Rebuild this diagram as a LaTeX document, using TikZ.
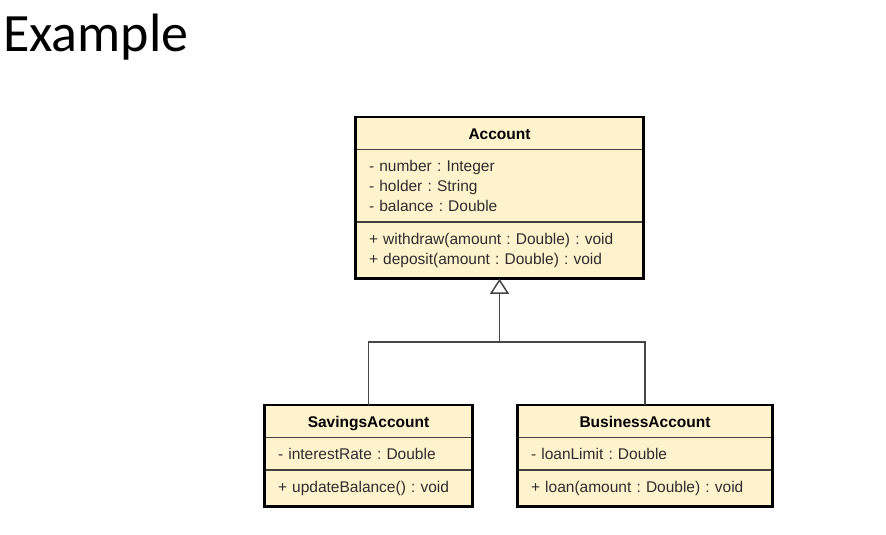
\documentclass[tikz,border=0pt]{standalone}
\usepackage{fontspec}
\setmainfont{Liberation Sans}
\newfontfamily\titlefont{Carlito}
\usetikzlibrary{positioning,arrows.meta,shapes.multipart}
\setlength{\parindent}{0pt}
\frenchspacing
\definecolor{classfill}{RGB}{255,243,206}
\definecolor{textgray}{RGB}{45,45,45}
\definecolor{linegray}{RGB}{70,70,70}
\newcommand\rowstrut{\rule[-4pt]{0pt}{20pt}}
\newcommand\opstrut{\rule[-8pt]{0pt}{24pt}}
\newcommand\classname[1]{\makebox[\linewidth]{\rowstrut\textbf{\color{black}#1}}}
\tikzset{
	>={Triangle[open,length=15pt,width=19pt]},
	umlclass/.style={rectangle split, rectangle split parts=3, draw=black!75, line width=1.2pt, fill=classfill, inner xsep=13pt, inner ysep=5.5pt, font=\fontsize{15.5}{20}\selectfont, text=textgray, align=left, anchor=north},
	classborder/.style={draw=black, line width=2.8pt},
	inherits/.style={draw=linegray, line width=1.5pt},
}

\begin{document}
\begin{tikzpicture}[x=1pt,y=-1pt]
	\useasboundingbox (0,0) rectangle (886,535);

	\node[font=\titlefont\fontsize{54}{60}\selectfont, anchor=base west, inner sep=0pt] (title) at (3,52) {Example};

	\node[umlclass, text width=261pt] (account) at (499.5,117) {\classname{Account}
		\nodepart{second}\rowstrut- number : Integer\\- holder : String\\- balance : Double\rowstrut
		\nodepart{third}\rowstrut+ withdraw(amount : Double) : void\\+ deposit(amount : Double) : void\opstrut};
	\node[umlclass, text width=181pt] (savings) at (368.5,405) {\classname{SavingsAccount}
		\nodepart{second}\rowstrut- interestRate : Double\rowstrut
		\nodepart{third}\rowstrut+ updateBalance() : void\opstrut};
	\node[umlclass, text width=228pt] (business) at (645,405) {\classname{BusinessAccount}
		\nodepart{second}\rowstrut- loanLimit : Double\rowstrut
		\nodepart{third}\rowstrut+ loan(amount : Double) : void\opstrut};

	\draw[classborder] (account.north west) rectangle (account.south east);
	\draw[classborder] (savings.north west) rectangle (savings.south east);
	\draw[classborder] (business.north west) rectangle (business.south east);

	\coordinate (fork) at (499.5,342);
	\draw[inherits,->] (savings.north) |- (fork) -- (account.south);
	\draw[inherits] (business.north) |- (fork);
\end{tikzpicture}
\end{document}
